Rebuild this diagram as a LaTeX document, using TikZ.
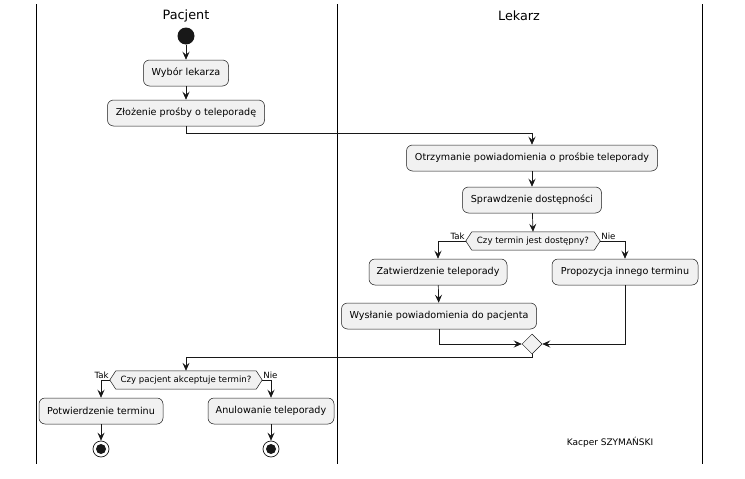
\documentclass[tikz,border=0pt]{standalone}
\usepackage{fontspec}
\setmainfont{DejaVu Sans}
\usetikzlibrary{arrows.meta,calc,shapes.geometric}
\definecolor{boxfill}{HTML}{F1F1F1}
\definecolor{boxline}{HTML}{181818}
\tikzset{
  act/.style={draw=boxline, fill=boxfill, rounded corners=6pt, line width=0.5pt,
    font=\fontsize{9.6}{11}\selectfont, minimum height=26pt, inner xsep=3pt, inner ysep=2pt},
  hexbody/.style={font=\fontsize{8.6}{10}\selectfont, inner xsep=2pt, inner ysep=2pt, minimum height=18pt},
  hexline/.style={draw=boxline, fill=boxfill, line width=0.5pt},
  arr/.style={draw=boxline, line width=0.7pt, -{Stealth[length=8pt,width=7pt,inset=3pt]}},
  lane/.style={draw=black, line width=1pt},
  lbl/.style={font=\fontsize{8.6}{10}\selectfont, inner sep=1pt},
  title/.style={font=\fontsize{12.8}{15}\selectfont}
}
\begin{document}
\begin{tikzpicture}[x=1pt,y=-1pt]
\useasboundingbox[fill=white] (0,0) rectangle (745,479);
% lanes
\coordinate (l1t) at (36,4); \coordinate (l1b) at (36,464);
\coordinate (l2t) at (337,4); \coordinate (l2b) at (337,464);
\coordinate (l3t) at (702,4); \coordinate (l3b) at (702,464);
\draw[lane] (l1t) -- (l1b);
\draw[lane] (l2t) -- (l2b);
\draw[lane] (l3t) -- (l3b);
\node[title] (tp) at (186,16) {Pacjent};
\node[title] (tl) at (519,16) {Lekarz};
% start
\node[circle, fill=boxline, minimum size=17pt, inner sep=0pt] (start) at (186,36) {};
\node[act, minimum width=85pt] (b1) at (186,73) {Wybór lekarza};
\node[act, minimum width=157pt] (b2) at (186,113) {Złożenie prośby o teleporadę};
\node[act, minimum width=251pt] (b3) at (532,158) {Otrzymanie powiadomienia o prośbie teleporady};
\node[act, minimum width=139pt] (b4) at (532,200) {Sprawdzenie dostępności};
% decision 1
\node[hexbody, minimum width=122pt] (d1) at (533,241) {Czy termin jest dostępny?};
\coordinate (d1l) at ($(d1.west)+(-6,0)$);
\coordinate (d1r) at ($(d1.east)+(6,0)$);
\draw[hexline] (d1.north west) -- (d1.north east) -- (d1r) -- (d1.south east) -- (d1.south west) -- (d1l) -- cycle;
\node[hexbody] at (d1) {Czy termin jest dostępny?};
\node[lbl, anchor=south east] (tak1) at (d1l) {Tak};
\node[lbl, anchor=south west] (nie1) at (d1r) {Nie};
\node[act, minimum width=138pt] (b5) at (438,272) {Zatwierdzenie teleporady};
\node[act, minimum width=195pt] (b6) at (439,316) {Wysłanie powiadomienia do pacjenta};
\node[act, minimum width=146pt] (b7) at (625,272) {Propozycja innego terminu};
% merge
\node[diamond, draw=boxline, fill=boxfill, line width=0.5pt, minimum size=20pt, inner sep=0pt] (m) at (532,344) {};
% decision 2
\node[hexbody, minimum width=140pt] (d2) at (186,380) {Czy pacjent akceptuje termin?};
\coordinate (d2l) at ($(d2.west)+(-6,0)$);
\coordinate (d2r) at ($(d2.east)+(6,0)$);
\draw[hexline] (d2.north west) -- (d2.north east) -- (d2r) -- (d2.south east) -- (d2.south west) -- (d2l) -- cycle;
\node[hexbody] at (d2) {Czy pacjent akceptuje termin?};
\node[lbl, anchor=south east] (tak2) at (d2l) {Tak};
\node[lbl, anchor=south west] (nie2) at (d2r) {Nie};
\node[act, minimum width=124pt] (b8) at (101,411) {Potwierdzenie terminu};
\node[act, minimum width=126pt] (b9) at (271,411) {Anulowanie teleporady};
% ends
\node[circle, draw=boxline, line width=0.7pt, fill=white, minimum size=16pt, inner sep=0pt] (e1) at (101,449) {};
\node[circle, fill=boxline, minimum size=10pt, inner sep=0pt] at (e1) {};
\node[circle, draw=boxline, line width=0.7pt, fill=white, minimum size=16pt, inner sep=0pt] (e2) at (271,449) {};
\node[circle, fill=boxline, minimum size=10pt, inner sep=0pt] at (e2) {};
% author
\node[font=\fontsize{9}{11}\selectfont] (auth) at (610,442) {Kacper SZYMAŃSKI};
% connectors
\draw[arr] (start) -- (b1);
\draw[arr] (b1) -- (b2);
\coordinate (j1) at (532,133);
\draw[arr] (b2.south) |- (j1) -- (b3.north);
\draw[arr] (b3) -- (b4);
\draw[arr] (b4) -- (d1.north);
\draw[arr] (d1l) -| (b5.north);
\draw[arr] (d1r) -| (b7.north);
\draw[arr] (b5) -- (b6);
\draw[arr] (b6.south) |- (m.west);
\draw[arr] (b7.south) |- (m.east);
\coordinate (j2) at (532,357);
\draw[arr] (m.south) -- (j2) -| (d2.north);
\draw[arr] (d2l) -| (b8.north);
\draw[arr] (d2r) -| (b9.north);
\draw[arr] (b8) -- (e1);
\draw[arr] (b9) -- (e2);
\end{tikzpicture}
\end{document}
